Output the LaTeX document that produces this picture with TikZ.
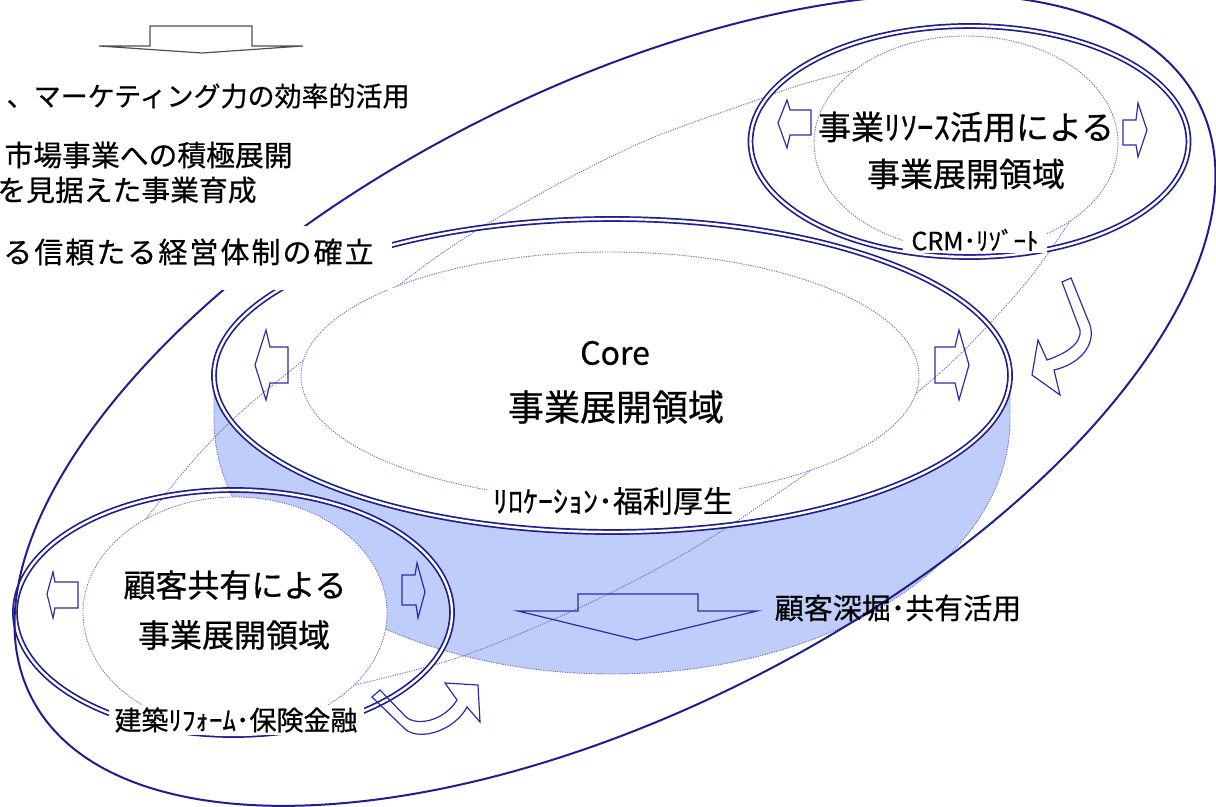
\documentclass[tikz,border=0pt]{standalone}
\usepackage{fontspec}
\setmainfont{Noto Sans CJK JP}[FakeBold=0.6]
\newcommand{\fsz}[1]{\fontsize{#1}{#1}\selectfont}
\definecolor{navyc}{RGB}{30,30,140}
\definecolor{dotc}{RGB}{110,110,205}
\definecolor{shadec}{RGB}{190,205,250}
\definecolor{arrowc}{RGB}{45,45,160}
\definecolor{grayc}{RGB}{80,80,80}
\tikzset{
  dbl/.style={draw=navyc, line width=0.85pt, double=white, double distance=1.2pt},
  dotl/.style={draw=dotc, line width=0.45pt, dash pattern=on 0.6pt off 0.6pt},
  innerell/.style={dotl, fill=white},
  shadefill/.style={fill=shadec, draw=dotc, line width=0.45pt, dash pattern=on 0.6pt off 0.6pt},
  bigl/.style={draw=navyc, line width=1pt},
  barrow/.style={draw=arrowc, line width=0.6pt, line join=miter},
  garrow/.style={draw=grayc, fill=white, line width=0.6pt, line join=miter},
  lbl/.style={inner sep=0pt, text=black},
  boxlbl/.style={fill=white, inner xsep=3pt, inner ysep=1pt, text=black}
}
\begin{document}
\begin{tikzpicture}[x=0.5pt,y=-0.5pt]
\useasboundingbox (0,0) rectangle (1216,807);

% shaded cylinder side
\path[shadefill] (214,375) -- (214,420) arc[start angle=180,end angle=360,x radius=199pt,y radius=127pt] -- (1010,375) -- cycle;

% core white fill
\fill[white] (612,375.5) ellipse [x radius=199pt, y radius=78.25pt];

% tilted inner dotted band
\draw[dotl] plot[smooth] coordinates {(90,592) (145,520) (200,453) (263,393) (435,258) (547,190) (647,140) (757,100) (800,85) (862,68)};
\draw[dotl] plot[smooth] coordinates {(325,692) (460,657) (600,598) (728,527) (920,390) (1020,290) (1076,212)};

% inner dotted ellipses
\draw[innerell] (610,376) ellipse [x radius=154.5pt, y radius=62pt];
\draw[innerell] (966,143) ellipse [x radius=76pt, y radius=53.5pt];
\draw[innerell] (235,613) ellipse [x radius=76pt, y radius=58pt];

% double ellipses
\draw[dbl] (612,375.5) ellipse [x radius=199pt, y radius=78.25pt];
\draw[dbl] (969.5,141.5) ellipse [x radius=109.5pt, y radius=57.75pt];
\draw[dbl] (233.5,612.5) ellipse [x radius=109.25pt, y radius=61.25pt];

% big tilted ellipse
\draw[bigl, rotate around={27:(615,400)}] (615,400) ellipse [x radius=327.5pt, y radius=155pt];

% top-left grey down arrow
\draw[garrow] (150,26) -- (252,26) -- (252,46) -- (303,46) -- (202,53) -- (99,46) -- (150,46) -- cycle;

% block arrows in ellipses
\draw[barrow] (288,347) -- (270,347) -- (266,330) -- (255,365) -- (266,400) -- (270,383) -- (288,383) -- cycle;
\draw[barrow] (935,347) -- (955,347) -- (959,330) -- (969,365) -- (959,400) -- (955,383) -- (935,383) -- cycle;
\draw[barrow] (78,582) -- (55,582) -- (53,572) -- (47,594) -- (53,618) -- (55,608) -- (78,608) -- cycle;
\draw[barrow] (402,575) -- (415,575) -- (417,563) -- (425,592) -- (418,618) -- (416,605) -- (402,605) -- cycle;
\draw[barrow] (811,110) -- (790,110) -- (787,100) -- (778,123) -- (787,148) -- (790,135) -- (811,135) -- cycle;
\draw[barrow] (1123,120) -- (1136,120) -- (1138,103) -- (1147,130) -- (1138,157) -- (1136,145) -- (1123,145) -- cycle;

% bottom centre down arrow
\draw[barrow] (578,594) -- (698,594) -- (698,611) -- (757,611) -- (637,640) -- (518,611) -- (578,611) -- cycle;

% curved arrow right
\draw[barrow] (1071,278) -- (1090,325) .. controls (1096,345) and (1080,364) .. (1054,370) -- (1060,395) -- (1032,375) -- (1038,340) -- (1047,360) .. controls (1062,355) and (1082,345) .. (1080,330) -- (1062,282) -- cycle;

% curved arrow bottom
\draw[barrow] (380,690) -- (406,717) .. controls (418,727) and (445,720) .. (457,700) -- (445,683) -- (478,685) -- (480,722) -- (467,707) .. controls (455,730) and (420,742) .. (405,729) -- (372,697) -- cycle;

% white box behind left bottom text
\fill[white] (0,226) rectangle (392,290);

% left texts
\node[lbl, anchor=east] (tl1) at (410,96) {\fsz{13.5pt}、マーケティング力の効率的活用};
\node[lbl, anchor=east] (tl2) at (293,155) {\fsz{14.4pt}市場事業への積極展開};
\node[lbl, anchor=east] (tl3) at (257,190) {\fsz{14.4pt}を見据えた事業育成};
\node[lbl, anchor=east] (tl4) at (374,252) {\fsz{14.5pt}\addfontfeature{LetterSpace=7}る信頼たる経営体制の確立};

% top-right texts
\node[lbl] (tr1) at (966,127) {\fsz{16.5pt}事業ﾘｿｰｽ活用による};
\node[lbl] (tr2) at (966,174) {\fsz{16.5pt}事業展開領域};
\node[boxlbl, inner xsep=4pt] (tr3) at (975,240) {\fsz{12.5pt}CRM･ﾘｿﾞｰﾄ};

% core texts
\node[lbl] (c1) at (615,353) {\fsz{16pt}Core};
\node[lbl] (c2) at (616,407) {\fsz{18pt}事業展開領域};
\node[boxlbl] (c3) at (613,501) {\fsz{15pt}ﾘﾛｹｰｼｮﾝ･福利厚生};

% bottom-left texts
\node[lbl] (b1) at (235,585) {\fsz{16pt}顧客共有による};
\node[lbl] (b2) at (234,635) {\fsz{16pt}事業展開領域};
\node[boxlbl] (b3) at (236,720) {\fsz{13.5pt}建築ﾘﾌｫｰﾑ･保険金融};

% deep label
\node[lbl] (deep) at (898,608) {\fsz{14.5pt}顧客深堀･共有活用};
\end{tikzpicture}
\end{document}
